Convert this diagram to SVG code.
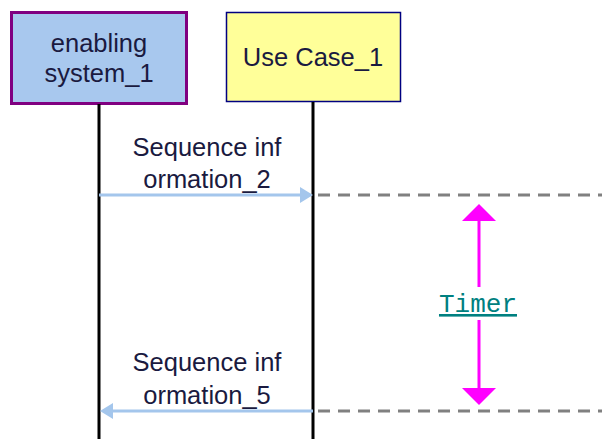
<svg xmlns="http://www.w3.org/2000/svg" width="602" height="439" viewBox="0 0 602 439">
<style>
.lbl{font-family:"Liberation Sans",Arial,sans-serif;font-size:25.5px;fill:#1a1a40;text-anchor:middle}
.life{stroke:#000;stroke-width:3}
.msg{stroke:#a4c6ec;stroke-width:3}
.dash{stroke:#808080;stroke-width:3;stroke-dasharray:12 8}
.timer{stroke:#ff00ff;stroke-width:3}
</style>
<rect width="602" height="439" fill="#fff"/>
<g id="enabling_system_1">
<rect x="11.5" y="12.5" width="175" height="91" fill="#a8c8ee" stroke="#800080" stroke-width="3"/>
<text class="lbl" x="99" y="52">enabling</text>
<text class="lbl" x="99" y="82">system_1</text>
<line class="life" x1="99" y1="104" x2="99" y2="439"/>
</g>
<g id="use_case_1">
<rect x="226.5" y="12.5" width="174" height="89" fill="#ffff99" stroke="#000080" stroke-width="1.5"/>
<text class="lbl" x="313" y="66">Use Case_1</text>
<line class="life" x1="313" y1="102" x2="313" y2="439"/>
</g>
<g id="connectors">
<line class="msg" x1="99" y1="195" x2="304" y2="195"/>
<polygon points="300,187 313,195 300,203" fill="#a4c6ec"/>
<text class="lbl" x="207" y="156">Sequence inf</text>
<text class="lbl" x="207" y="188">ormation_2</text>
<line class="dash" x1="318" y1="195" x2="602" y2="195"/>
<line class="msg" x1="108" y1="411" x2="313" y2="411"/>
<polygon points="113,403 100,411 113,419" fill="#a4c6ec"/>
<text class="lbl" x="207" y="371">Sequence inf</text>
<text class="lbl" x="207" y="404">ormation_5</text>
<line class="dash" x1="318" y1="411" x2="602" y2="411"/>
<g id="timer">
<line class="timer" x1="479" y1="218" x2="479" y2="287"/>
<polygon points="462,221 479,204 496,221" fill="#ff00ff"/>
<line class="timer" x1="479" y1="320" x2="479" y2="390"/>
<polygon points="462,388 479,405 496,388" fill="#ff00ff"/>
<text x="478" y="312" font-family="'Liberation Mono','Courier New',monospace" font-size="26" fill="#008080" text-anchor="middle" text-decoration="underline">Timer</text>
</g>
</g>
</svg>
